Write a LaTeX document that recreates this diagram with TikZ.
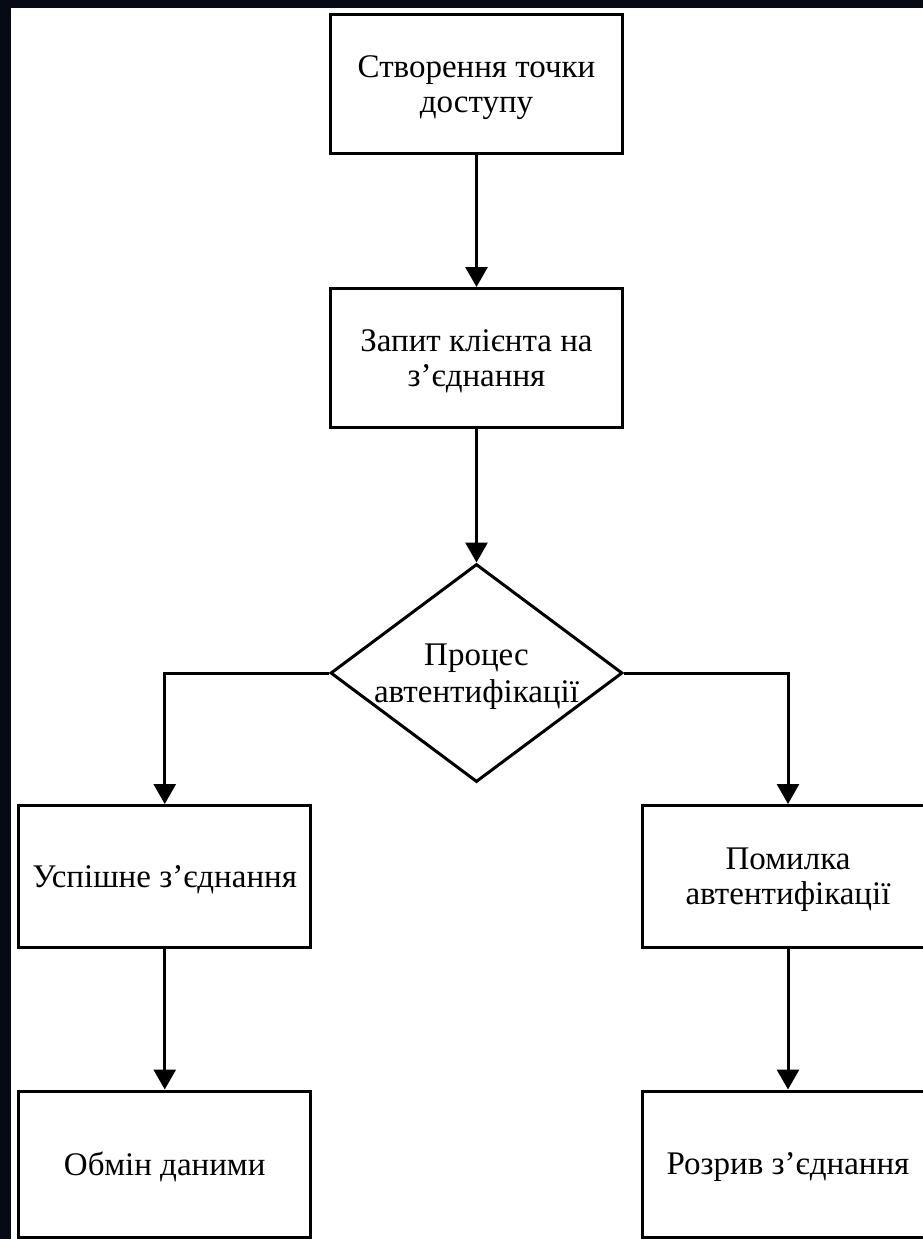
\documentclass[tikz,border=0pt]{standalone}
\usepackage{fontspec}
\setmainfont{Liberation Serif}
\usetikzlibrary{shapes.geometric,arrows.meta}
\definecolor{bgdark}{RGB}{6,10,20}
\begin{document}
\begin{tikzpicture}[x=1pt,y=-1pt,
  box/.style={draw, line width=3pt, minimum width=292pt, minimum height=139pt, inner sep=0pt, align=center, text depth=0pt, font=\fontsize{33}{35}\selectfont},
  dia/.style={draw, diamond, line width=3pt, minimum width=292pt, minimum height=218pt, inner sep=0pt},
  lbl/.style={align=center, inner sep=0pt, font=\fontsize{33}{37}\selectfont},
  arr/.style={line width=3pt, -{Triangle[width=22pt,length=20pt]}},
]
\useasboundingbox (0,0) rectangle (923,1239);
\fill[bgdark] (0,0) rectangle (923,1239);
\fill[white] (11,8) rectangle (923,1239);
\begin{scope}
\clip (11,8) rectangle (923,1239);
\node[box] (a) at (476.5,84) {Створення точки\\доступу};
\node[box] (b) at (476.5,358) {Запит клієнта на\\з’єднання};
\node[dia] (d) at (476.5,673) {};
\node[lbl] (dt) at (476.5,677) {Процес\\автентифікації};
\node[box, minimum height=142pt] (l) at (164.75,876.5) {Успішне з’єднання};
\node[box, minimum height=142pt] (r) at (788,876.5) {Помилка\\автентифікації};
\node[box, minimum height=146pt] (lb) at (164.75,1164) {Обмін даними};
\node[box, minimum height=146pt] (rb) at (788,1164) {Розрив з’єднання};
\draw[arr] (a.south) -- (b.north);
\draw[arr] (b.south) -- (d.north);
\draw[arr] (d.west) -| (l.north);
\draw[arr] (d.east) -| (r.north);
\draw[arr] (l.south) -- (lb.north);
\draw[arr] (r.south) -- (rb.north);
\end{scope}
\end{tikzpicture}
\end{document}
